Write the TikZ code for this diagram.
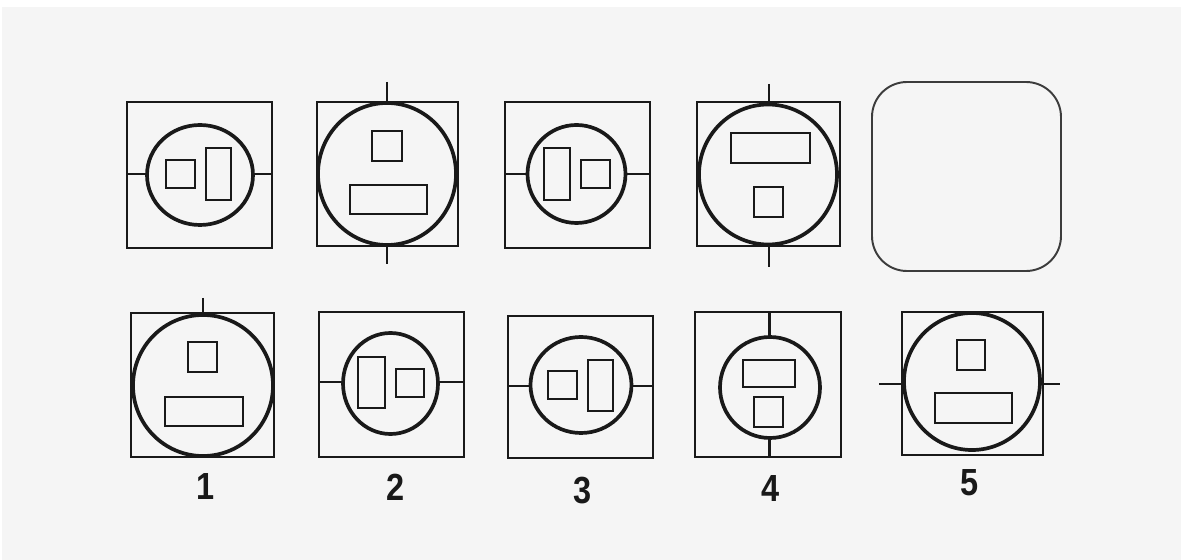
\documentclass[tikz,border=0pt]{standalone}
\usepackage{fontspec}
\setmainfont{Liberation Sans}
\definecolor{paper}{RGB}{245,245,245}
\definecolor{ink}{RGB}{25,25,25}
\newcommand{\slimdigit}[1]{\scalebox{0.86}[1]{#1}}
\tikzset{
    frame/.style={draw=ink, line width=1.35pt},
    ring/.style={draw=ink, line width=2.1pt},
    bar/.style={draw=ink, line width=1.15pt},
    digit/.style={font=\bfseries\fontsize{21.5}{21.5}\selectfont, text=ink, inner sep=0pt},
}
\begin{document}
\begin{tikzpicture}[x=0.02cm, y=-0.02cm]
    \fill[white] (0,0) rectangle (1181,560);
    \fill[paper] (2,7) rectangle (1181,560);
    \useasboundingbox (0,0) rectangle (1181,560);
    % top row
    \draw[frame] (127,102) rectangle (272,248);
    \draw[frame] (127,174) -- (147,174) (253,174) -- (272,174);
    \draw[ring] (200,175) ellipse [x radius=53, y radius=50];
    \draw[bar] (166,160) rectangle (195,188);
    \draw[bar] (206,148) rectangle (231,200);

    \draw[frame] (317,102) rectangle (458,246);
    \draw[frame] (387,82) -- (387,103) (387,245) -- (387,264);
    \draw[ring] (387,174) ellipse [x radius=69, y radius=71];
    \draw[bar] (372,131) rectangle (402,161);
    \draw[bar] (350,185) rectangle (427,214);

    \draw[frame] (505,102) rectangle (650,248);
    \draw[frame] (505,174) -- (528,174) (625,174) -- (650,174);
    \draw[ring] (576.5,174) ellipse [x radius=49, y radius=49];
    \draw[bar] (544,148) rectangle (570,200);
    \draw[bar] (581,160) rectangle (610,188);

    \draw[frame] (697,102) rectangle (840,246);
    \draw[frame] (769,84) -- (769,104) (769,245) -- (769,267);
    \draw[ring] (768,174.5) ellipse [x radius=69, y radius=70];
    \draw[bar] (731,133) rectangle (810,163);
    \draw[bar] (754,187) rectangle (783,217);

    % empty answer slot
    \draw[draw=ink!85, line width=1.1pt, rounded corners=0.7cm] (872,82) rectangle (1061,271);

    % bottom row, the choices
    \draw[frame] (131,313) rectangle (274,457);
    \draw[frame] (203,298) -- (203,315);
    \draw[ring] (203,385.5) ellipse [x radius=70, y radius=70.5];
    \draw[bar] (188,342) rectangle (217,372);
    \draw[bar] (165,397) rectangle (243,426);

    \draw[frame] (319,312) rectangle (464,457);
    \draw[frame] (319,382) -- (343,382) (438,382) -- (464,382);
    \draw[ring] (390.5,383.5) ellipse [x radius=47.5, y radius=50.5];
    \draw[bar] (358,357) rectangle (385,408);
    \draw[bar] (396,369) rectangle (424,397);

    \draw[frame] (508,316) rectangle (653,458);
    \draw[frame] (508,386) -- (531,386) (631,386) -- (653,386);
    \draw[ring] (581,385) ellipse [x radius=50.5, y radius=48];
    \draw[bar] (548,371) rectangle (577,399);
    \draw[bar] (588,360) rectangle (613,411);

    \draw[frame] (695,312) rectangle (841,457);
    \draw[frame] (769.5,312) -- (769.5,337) (769.5,438) -- (769.5,457);
    \draw[ring] (770,387.5) ellipse [x radius=50, y radius=50.5];
    \draw[bar] (743,360) rectangle (795,387);
    \draw[bar] (754,397) rectangle (783,427);

    \draw[frame] (902,312) rectangle (1043,455);
    \draw[frame] (879,384) -- (904,384) (1040,384) -- (1060,384);
    \draw[ring] (972,381.5) ellipse [x radius=68, y radius=68.5];
    \draw[bar] (957,340) rectangle (985,370);
    \draw[bar] (935,393) rectangle (1012,423);

    \node[digit] (lab1) at (206,487) {\slimdigit{1}};
    \node[digit] (lab2) at (396,487) {\slimdigit{2}};
    \node[digit] (lab3) at (583,491) {\slimdigit{3}};
    \node[digit] (lab4) at (771,489) {\slimdigit{4}};
    \node[digit] (lab5) at (970,483) {\slimdigit{5}};
\end{tikzpicture}
\end{document}
